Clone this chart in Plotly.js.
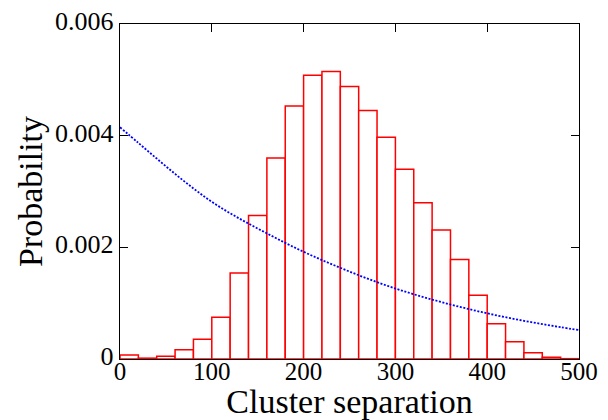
<!DOCTYPE html>
<html>
<head>
<meta charset="utf-8">
<script src="https://cdn.plot.ly/plotly-3.0.1.min.js"></script>
<style>html,body{margin:0;padding:0;background:#fff}#chart{width:608px;height:420px}</style>
</head>
<body>
<div id="chart"></div>
<script>
// Histogram bins (bin width 20, centers)
var binCenters = [10,30,50,70,90,110,130,150,170,190,210,230,250,270,290,310,330,350,370,390,410,430,450,470,490];
var binProb = [7e-5,1.5e-5,5e-5,1.65e-4,3.55e-4,7.5e-4,1.54e-3,2.57e-3,3.60e-3,4.53e-3,5.08e-3,5.15e-3,4.88e-3,4.45e-3,3.97e-3,3.40e-3,2.80e-3,2.31e-3,1.78e-3,1.14e-3,6.3e-4,3.1e-4,1.1e-4,3e-5,6e-6];
// Dotted curve
var curveX = [0,20,40,60,80,100,120,140,160,180,200,220,240,260,280,300,320,340,360,380,400,420,440,460,480,500];
var curveY = [4.15e-3,3.87e-3,3.59e-3,3.315e-3,3.055e-3,2.815e-3,2.61e-3,2.425e-3,2.25e-3,2.08e-3,1.92e-3,1.772e-3,1.634e-3,1.50e-3,1.377e-3,1.262e-3,1.16e-3,1.065e-3,0.976e-3,0.894e-3,0.818e-3,0.748e-3,0.684e-3,0.625e-3,0.570e-3,0.518e-3];
var yTickVals = [0,0.002,0.004,0.006];
var yTickText = ["0","0.002","0.004","0.006"];
var xTickVals = [0,100,200,300,400,500];

var font = "Liberation Serif, Times New Roman, serif";
var traces = [
  {type:'bar', x:binCenters, y:binProb, width:20,
   marker:{color:'#ffffff', line:{color:'#ff0000', width:1.5}},
   hoverinfo:'skip', showlegend:false},
  {type:'scatter', mode:'lines', x:curveX, y:curveY, xaxis:'x2',
   line:{color:'#0000ff', width:1.8, dash:'2px,1.6px', shape:'spline'},
   showlegend:false}
];
var layout = {
  width:608, height:420,
  margin:{l:120, r:29, t:24, b:61},
  paper_bgcolor:'#fff', plot_bgcolor:'#fff',
  bargap:0,
  font:{family:font, color:'#000'},
  showlegend:false,
  xaxis:{range:[0,500], tickvals:xTickVals, ticks:'', showgrid:false, zeroline:false,
    showline:true, linecolor:'#000', linewidth:1.2, mirror:true,
    ticklabelstandoff:-10,
    tickfont:{family:font, size:25, color:'#000'},
    title:{text:'Cluster separation', font:{family:font, size:34, color:'#000'}, standoff:2}},
  xaxis2:{range:[0,500], overlaying:'x', side:'top', anchor:'y', tickvals:xTickVals,
    ticks:'inside', ticklen:8, tickcolor:'#000', showticklabels:false, showgrid:false,
    zeroline:false, showline:false},
  yaxis:{range:[0,0.006], tickvals:yTickVals, ticktext:yTickText, ticks:'inside', ticklen:8,
    tickcolor:'#000', mirror:'ticks', showgrid:false, zeroline:false,
    showline:true, linecolor:'#000', linewidth:1.2, ticklabelshift:-3,
    tickfont:{family:font, size:26, color:'#000'},
    title:{text:'Probability', font:{family:font, size:34, color:'#000'}, standoff:2}}
};
Plotly.newPlot('chart', traces, layout, {displayModeBar:false, staticPlot:true});
</script>
</body>
</html>
